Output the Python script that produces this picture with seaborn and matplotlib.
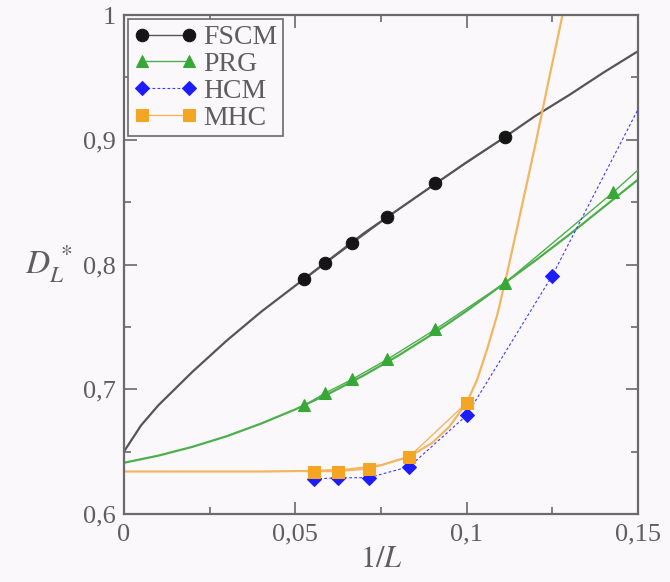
import numpy as np
import matplotlib
matplotlib.use("Agg")
import matplotlib.pyplot as plt
import seaborn as sns
from matplotlib.ticker import FixedLocator, FixedFormatter, MultipleLocator

# ---------------- data ----------------
# system sizes L (x axis is 1/L)
L_fscm = [19, 17, 15, 13, 11, 9]
D_fscm = [0.788, 0.801, 0.817, 0.838, 0.865, 0.902]

L_prg = [19, 17, 15, 13, 11, 9, 7, 6]
D_prg = [0.687, 0.697, 0.708, 0.724, 0.748, 0.785, 0.858, 0.917]

L_hcm = [18, 16, 14, 12, 10, 8, 6]
D_hcm = [0.628, 0.629, 0.629, 0.638, 0.679, 0.791, 1.013]

L_mhc = [18, 16, 14, 12, 10]
D_mhc = [0.634, 0.634, 0.636, 0.646, 0.689]

# fitted curves
fit_fscm_x = [0, 0.005, 0.01, 0.02, 0.03, 0.04, 0.05, 0.06, 0.07, 0.08, 0.09, 0.10, 0.11, 0.12, 0.13, 0.14, 0.15]
fit_fscm_y = [0.650, 0.671, 0.687, 0.714, 0.739, 0.762, 0.783, 0.804, 0.825, 0.844, 0.863, 0.882, 0.900, 0.919, 0.936, 0.954, 0.971]

fit_prg_x = [0, 0.01, 0.02, 0.03, 0.04, 0.05, 0.06, 0.07, 0.08, 0.09, 0.10, 0.11, 0.12, 0.13, 0.14, 0.15]
fit_prg_y = [0.641, 0.6467, 0.6538, 0.6623, 0.6724, 0.6838, 0.6967, 0.7111, 0.7268, 0.7441, 0.7628, 0.7829, 0.803, 0.824, 0.846, 0.868]

fit_mhc_x = [0, 0.02, 0.04, 0.055, 0.065, 0.075, 0.0833, 0.09, 0.095, 0.10, 0.103, 0.106, 0.109, 0.112, 0.116, 0.120, 0.124, 0.128, 0.131]
fit_mhc_y = [0.634, 0.634, 0.634, 0.6345, 0.6355, 0.639, 0.646, 0.657, 0.670, 0.689, 0.707, 0.732, 0.760, 0.795, 0.845, 0.895, 0.948, 1.0, 1.04]

x_ticks = [0, 0.05, 0.1, 0.15]
x_ticklabels = ["0", "0,05", "0,1", "0,15"]
y_ticks = [0.6, 0.7, 0.8, 0.9, 1.0]
y_ticklabels = ["0,6", "0,7", "0,8", "0,9", "1"]

# ---------------- style ----------------
sns.set_theme(style="ticks")
plt.rcParams["font.family"] = ["Liberation Serif", "DejaVu Serif"]
plt.rcParams["mathtext.fontset"] = "stix"

bg = "#fbf8fb"
txt = "#5e5e5e"
spine_c = "#6a6a6a"

c_black = "#151515"
c_black_line = "#555555"
c_green = "#35a835"
c_green_line = "#4caf4c"
c_blue = "#1c1cff"
c_orange = "#f5a524"
c_orange_line = "#f3b660"

fig = plt.figure(figsize=(6.7, 5.82), dpi=100, facecolor=bg)
ax = fig.add_axes([0.185, 0.117, 0.952 - 0.185, 0.974 - 0.117])
ax.set_facecolor(bg)

# fitted curves
sns.lineplot(x=fit_fscm_x, y=fit_fscm_y, color=c_black_line, lw=1.6, ax=ax, legend=False, zorder=2)
sns.lineplot(x=fit_prg_x, y=fit_prg_y, color=c_green_line, lw=1.6, ax=ax, legend=False, zorder=2)
sns.lineplot(x=fit_mhc_x, y=fit_mhc_y, color=c_orange_line, lw=1.6, ax=ax, legend=False, zorder=2)

# data series
x_fscm = 1 / np.array(L_fscm, dtype=float)
x_prg = 1 / np.array(L_prg, dtype=float)
x_hcm = 1 / np.array(L_hcm, dtype=float)
x_mhc = 1 / np.array(L_mhc, dtype=float)

sns.lineplot(x=x_fscm, y=D_fscm, ax=ax, color=c_black_line, lw=1.0, marker="o",
             markersize=9, markerfacecolor=c_black, markeredgecolor=c_black,
             label="FSCM", zorder=4)
sns.lineplot(x=x_prg, y=D_prg, ax=ax, color=c_green_line, lw=1.0, marker="^",
             markersize=9, markerfacecolor=c_green, markeredgecolor=c_green,
             label="PRG", zorder=4)
sns.lineplot(x=x_hcm, y=D_hcm, ax=ax, color="#3c3cff", lw=0.8, ls=(0, (2.5, 2)), marker="D",
             markersize=7, markerfacecolor=c_blue, markeredgecolor=c_blue,
             label="HCM", zorder=4)
sns.lineplot(x=x_mhc, y=D_mhc, ax=ax, color=c_orange_line, lw=1.0, marker="s",
             markersize=8, markerfacecolor=c_orange, markeredgecolor=c_orange,
             label="MHC", zorder=5)

# axes
ax.set_xlim(0, 0.15)
ax.set_ylim(0.6, 1.0)
ax.xaxis.set_major_locator(FixedLocator(x_ticks))
ax.xaxis.set_major_formatter(FixedFormatter(x_ticklabels))
ax.yaxis.set_major_locator(FixedLocator(y_ticks))
ax.yaxis.set_major_formatter(FixedFormatter(y_ticklabels))
ax.xaxis.set_minor_locator(MultipleLocator(0.025))
ax.yaxis.set_minor_locator(MultipleLocator(0.05))
ax.tick_params(which="both", direction="in", top=True, right=True, colors=spine_c,
               labelcolor=txt, width=1.2)
ax.tick_params(which="major", length=9, labelsize=19, pad=6)
ax.tick_params(axis="x", which="major", pad=7)
ax.tick_params(which="minor", length=5)
for s in ax.spines.values():
    s.set_color(spine_c)
    s.set_linewidth(1.6)

ax.set_xlabel(r"$1/L$", fontsize=22, color=txt, va="center")
ax.set_ylabel(r"$D_L^{\;*}$", fontsize=24, color=txt, rotation=0, ha="center", va="center")
ax.xaxis.set_label_coords(0.5, -0.092)
ax.yaxis.set_label_coords(-0.145, 0.5)

leg = ax.legend(loc="upper left", numpoints=2, fontsize=20, frameon=True, fancybox=False,
                borderaxespad=0.15, borderpad=0.2, labelspacing=0.05, handlelength=2.3,
                handletextpad=0.2, edgecolor=spine_c, facecolor=bg, framealpha=1)
leg.get_frame().set_linewidth(1.2)
for t in leg.get_texts():
    t.set_color(txt)

fig.savefig("out.png", dpi=100, facecolor=bg)
